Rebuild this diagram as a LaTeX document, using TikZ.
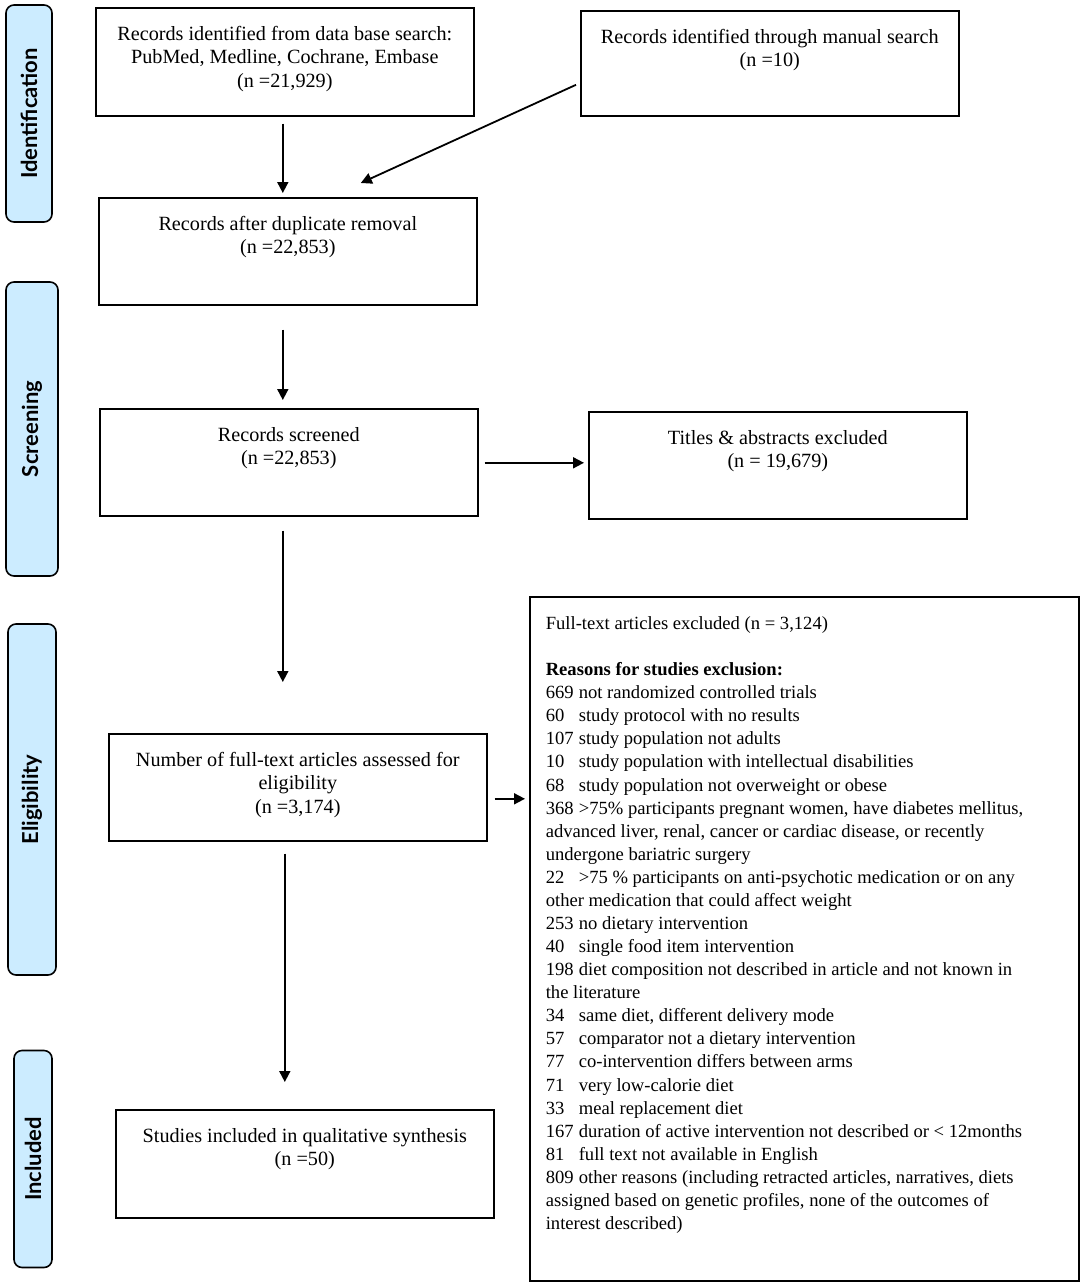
\documentclass[tikz,border=0pt]{standalone}
\usepackage{fontspec}
\setmainfont{Liberation Serif}
\newfontfamily\labfont{Lato}
\usetikzlibrary{arrows.meta}
\definecolor{sideblue}{RGB}{204,236,255}
\newcommand\rsn[1]{\makebox[33pt][l]{#1}}
\newcommand\bxt[3]{\parbox[t][#1][t]{#2}{\centering\vspace*{16pt}\strut #3}}
\begin{document}
\begin{tikzpicture}[x=1pt,y=-1pt,
  box/.style={draw, line width=1.6pt, inner sep=0pt, anchor=north west,
    font=\fontsize{20.2}{23.5}\selectfont},
  side/.style={draw, line width=1.6pt, fill=sideblue, rounded corners=8pt,
    rotate=90, inner sep=0pt,
    font=\labfont\bfseries\fontsize{22}{26}\selectfont},
  arr/.style={-{Triangle[length=11pt,width=11pt]}, line width=1.8pt}]
\useasboundingbox (0,0) rectangle (1084,1285);

% side labels
\node[side, minimum width=217pt, minimum height=46pt] (sid) at (29,113.5) {Identification};
\node[side, minimum width=294pt, minimum height=52pt] (ssc) at (32,429) {Screening};
\node[side, minimum width=351pt, minimum height=48pt] (sel) at (32,799.5) {Eligibility};
\node[side, minimum width=217pt, minimum height=38pt] (sin) at (33,1159) {Included};

% boxes
\node[box] (b1) at (95,7) {\bxt{108pt}{378pt}{Records identified from data base search:\\
PubMed, Medline, Cochrane, Embase\\(n =21,929)}};
\node[box] (b2) at (580,10) {\bxt{105pt}{378pt}{Records identified through manual search\\(n =10)}};
\node[box] (b3) at (98,197) {\bxt{107pt}{378pt}{Records after duplicate removal\\(n =22,853)}};
\node[box] (b4) at (99,408) {\bxt{107pt}{378pt}{Records screened\\(n =22,853)}};
\node[box] (b5) at (588,411) {\bxt{107pt}{378pt}{Titles \& abstracts excluded\\(n = 19,679)}};
\node[box] (b6) at (108,733) {\bxt{107pt}{378pt}{Number of full-text articles assessed for\\eligibility\\(n =3,174)}};
\node[box] (b8) at (115,1109) {\bxt{108pt}{378pt}{Studies included in qualitative synthesis\\(n =50)}};
\node[box, inner xsep=16pt, font=\fontsize{18.6}{23.08}\selectfont] (b7) at (529,596) {\parbox[t][684pt][t]{517pt}{\raggedright\vspace*{16.5pt}\strut
Full-text articles excluded (n = 3,124)\\
\mbox{}\\
\textbf{Reasons for studies exclusion:}\\
\rsn{669}not randomized controlled trials\\
\rsn{60}study protocol with no results\\
\rsn{107}study population not adults\\
\rsn{10}study population with intellectual disabilities\\
\rsn{68}study population not overweight or obese\\
\rsn{368}>75\% participants pregnant women, have diabetes mellitus,\\
advanced liver, renal, cancer or cardiac disease, or recently\\
undergone bariatric surgery\\
\rsn{22}>75 \% participants on anti-psychotic medication or on any\\
other medication that could affect weight\\
\rsn{253}no dietary intervention\\
\rsn{40}single food item intervention\\
\rsn{198}diet composition not described in article and not known in\\
the literature\\
\rsn{34}same diet, different delivery mode\\
\rsn{57}comparator not a dietary intervention\\
\rsn{77}co-intervention differs between arms\\
\rsn{71}very low-calorie diet\\
\rsn{33}meal replacement diet\\
\rsn{167}duration of active intervention not described or < 12months\\
\rsn{81}full text not available in English\\
\rsn{809}other reasons (including retracted articles, narratives, diets\\
assigned based on genetic profiles, none of the outcomes of\\
interest described)}};

% connectors
\draw[arr, shorten <=7pt, shorten >=4pt] ([xshift=-2pt]b1.south) -- ([xshift=-5pt]b3.north);
\draw[arr] ([xshift=-4pt,yshift=-21.5pt]b2.west) -- ([xshift=73pt,yshift=14pt]b3.north);
\draw[arr, shorten <=24pt, shorten >=8pt] ([xshift=-5pt]b3.south) -- ([xshift=-6pt]b4.north);
\draw[arr, shorten <=6pt, shorten >=4pt] ([yshift=-0.5pt]b4.east) -- ([yshift=2.5pt]b5.west);
\draw[arr, shorten <=14pt, shorten >=51pt] ([xshift=-6pt]b4.south) -- ([xshift=-15pt]b6.north);
\draw[arr, shorten <=7pt, shorten >=4pt] ([yshift=-11.5pt]b6.east) -- ([yshift=140pt]b7.west);
\draw[arr, shorten <=12pt, shorten >=27pt] ([xshift=-13pt]b6.south) -- ([xshift=-20pt]b8.north);
\end{tikzpicture}
\end{document}
